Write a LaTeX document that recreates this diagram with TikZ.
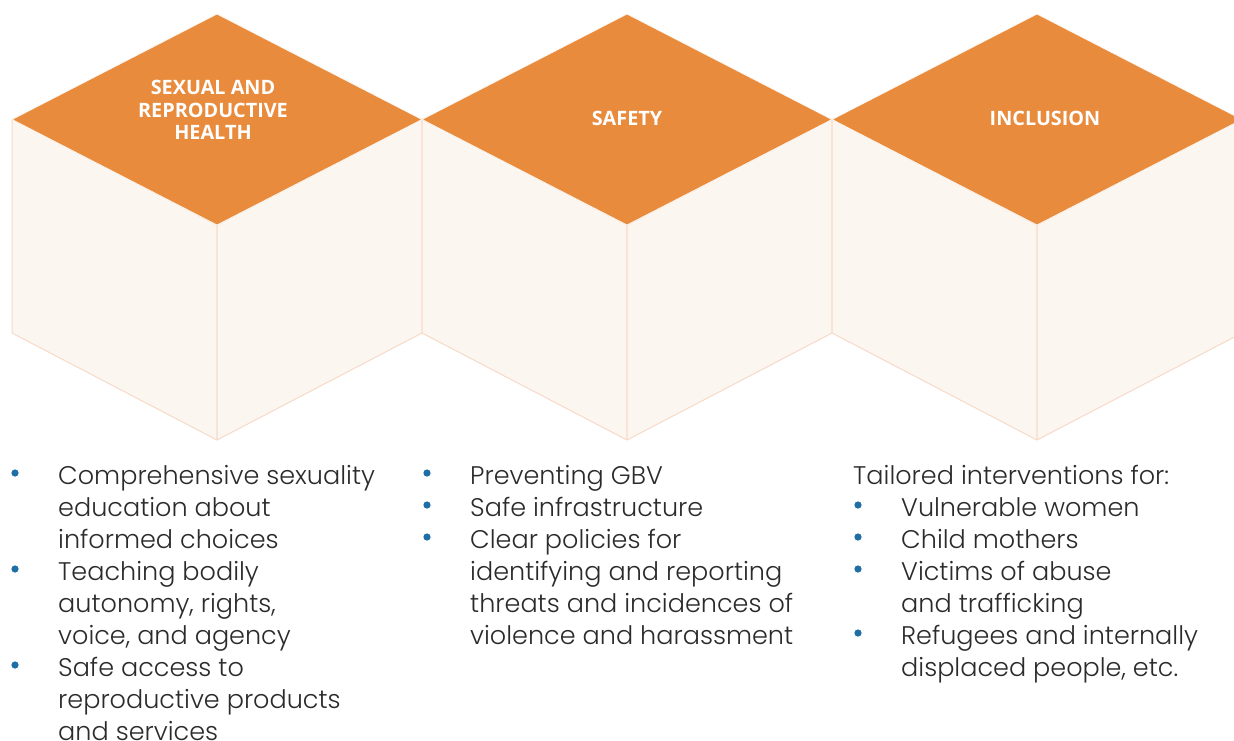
\documentclass[tikz,border=0pt]{standalone}
\usepackage{fontspec}
\newfontfamily\bodyfont{Poppins Light}
\newfontfamily\headfont{Open Sans}
\definecolor{topface}{RGB}{233,139,60}
\definecolor{sideface}{RGB}{252,246,241}
\definecolor{edgeline}{RGB}{247,218,200}
\definecolor{dotblue}{RGB}{31,110,166}
\definecolor{bodytext}{RGB}{43,43,43}
\tikzset{
  side/.style={fill=sideface, draw=edgeline, line width=1pt, line join=round},
  lid/.style={fill=topface, draw=sideface, line width=0.8pt, line join=round},
  headlabel/.style={text=white, font=\headfont\bfseries\fontsize{19.8}{22.5}\selectfont, align=center, inner sep=0pt},
  itemtext/.style={anchor=base west, inner sep=0pt, text=bodytext},
  dot/.style={circle, fill=dotblue, inner sep=0pt, minimum size=7.2pt}
}
% one cube: centre abscissa #1
\newcommand{\isocube}[1]{%
  \filldraw[side] (#1-205,119) -- (#1,225) -- (#1,440) -- (#1-205,333) -- cycle;
  \filldraw[side] (#1+205,119) -- (#1,225) -- (#1,440) -- (#1+205,333) -- cycle;
  \filldraw[lid] (#1,14) -- (#1+205,119.5) -- (#1,225) -- (#1-205,119.5) -- cycle;
}
\newcommand{\itembox}[1]{\parbox[t]{360pt}{\bodyfont\fontsize{25.5}{32}\selectfont\raggedright #1}}
\begin{document}
\begin{tikzpicture}[x=1pt,y=-1pt]
\useasboundingbox (0,0) rectangle (1234,740);
\begin{scope}
\clip (0,0) rectangle (1234,740);
\isocube{217}
\isocube{627}
\isocube{1037}
\end{scope}

% cube titles
\node[headlabel] (h1) at (213,110) {SEXUAL AND\\REPRODUCTIVE\\HEALTH};
\node[headlabel] (h2) at (627,118) {SAFETY};
\node[headlabel] (h3) at (1045,118) {INCLUSION};

% first column
\node[dot] (b11) at (15,473) {};
\node[itemtext] (i11) at (58,484) {\itembox{Comprehensive sexuality\\education about\\informed choices}};
\node[dot] (b12) at (15,569) {};
\node[itemtext] (i12) at (58,580) {\itembox{Teaching bodily\\autonomy, rights,\\voice, and agency}};
\node[dot] (b13) at (15,665) {};
\node[itemtext] (i13) at (58,676) {\itembox{Safe access to\\reproductive products\\and services}};

% second column
\node[dot] (b21) at (427,473) {};
\node[itemtext] (i21) at (470,484) {\itembox{Preventing GBV}};
\node[dot] (b22) at (427,505) {};
\node[itemtext] (i22) at (470,516) {\itembox{Safe infrastructure}};
\node[dot] (b23) at (427,537) {};
\node[itemtext] (i23) at (470,548) {\itembox{Clear policies for\\identifying and reporting\\threats and incidences of\\violence and harassment}};

% third column
\node[itemtext] (i30) at (853,484) {\itembox{Tailored interventions for:}};
\node[dot] (b31) at (858,505) {};
\node[itemtext] (i31) at (901,516) {\itembox{Vulnerable women}};
\node[dot] (b32) at (858,537) {};
\node[itemtext] (i32) at (901,548) {\itembox{Child mothers}};
\node[dot] (b33) at (858,569) {};
\node[itemtext] (i33) at (901,580) {\itembox{Victims of abuse\\and trafficking}};
\node[dot] (b34) at (858,633) {};
\node[itemtext] (i34) at (901,644) {\itembox{Refugees and internally\\displaced people, etc.}};
\end{tikzpicture}
\end{document}
